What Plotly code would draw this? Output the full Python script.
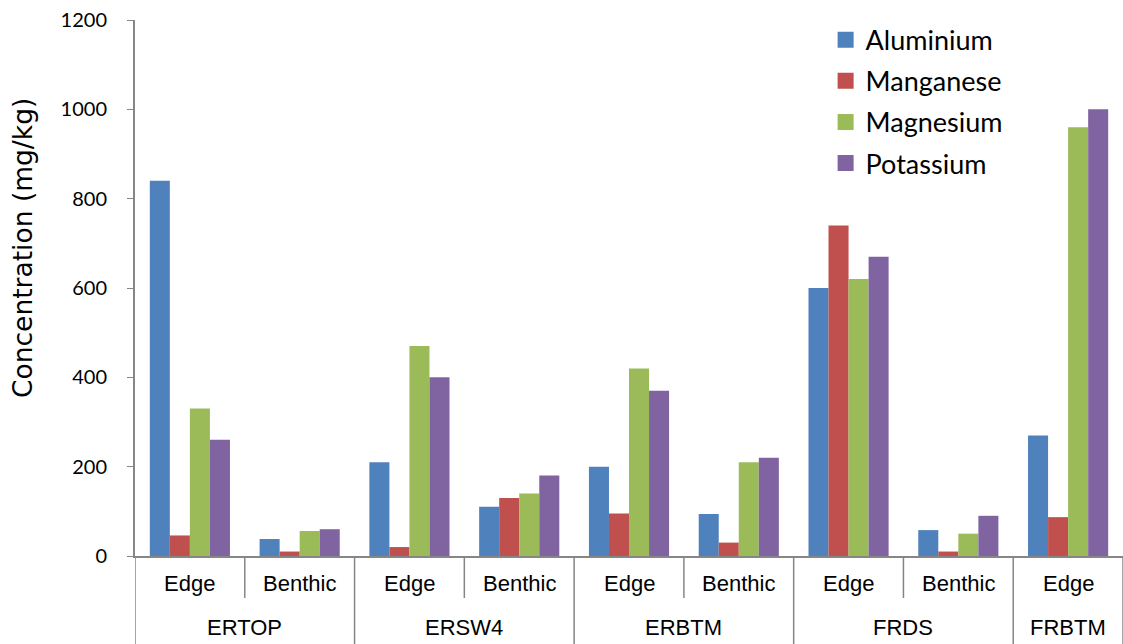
import plotly.graph_objects as go

# Sampling sites and positions
sites = ["ERTOP", "ERTOP", "ERSW4", "ERSW4", "ERBTM", "ERBTM", "FRDS", "FRDS", "FRBTM"]
positions = ["Edge", "Benthic", "Edge", "Benthic", "Edge", "Benthic", "Edge", "Benthic", "Edge"]

# Metal concentrations (mg/kg)
aluminium = [840, 38, 210, 110, 200, 94, 600, 58, 270]
manganese = [46, 10, 20, 130, 95, 30, 740, 10, 87]
magnesium = [330, 56, 470, 140, 420, 210, 620, 50, 960]
potassium = [260, 60, 400, 180, 370, 220, 670, 90, 1000]

series = [
    ("Aluminium", aluminium, "#4F81BD"),
    ("Manganese", manganese, "#C0504D"),
    ("Magnesium", magnesium, "#9BBB59"),
    ("Potassium", potassium, "#8064A2"),
]

ARIAL = "Liberation Sans"
SOFT = "Lato"
WIDE = "DejaVu Sans"
axis_grey = "#868686"

# one category per site/position pair
cats = [f"{s} {p}" for s, p in zip(sites, positions)]

fig = go.Figure()
for i, (name, vals, color) in enumerate(series):
    fig.add_trace(go.Bar(
        name=name, x=cats, y=vals,
        marker=dict(color=color, line=dict(width=0)),
        showlegend=False,
    ))
    # square swatch for the legend
    fig.add_trace(go.Scatter(
        name=name, x=[None], y=[None], mode="markers",
        marker=dict(symbol="square", size=17, color=color),
        legendgroup=f"g{i}", showlegend=True,
    ))

# two-level category labels below the axis
plot_w = 1123 - 135
plot_h = 644 - 20 - 88
for c, p in zip(cats, positions):
    fig.add_annotation(x=c, xref="x", y=-27 / plot_h, yref="paper",
                       text=p, showarrow=False, yanchor="middle",
                       font=dict(family=ARIAL, size=22, color="black"))

n = len(cats)
start = 0
for k in range(1, n + 1):
    if k == n or sites[k] != sites[start]:
        mid = (start + k - 1) / 2
        fig.add_annotation(x=mid, xref="x", y=-71 / plot_h, yref="paper",
                           text=sites[start], showarrow=False, yanchor="middle",
                           font=dict(family=ARIAL, size=22, color="black"))
        # group boundary spans both label rows
        fig.add_shape(type="line", xref="x", yref="paper",
                      x0=k - 0.5, x1=k - 0.5, y0=0, y1=-88 / plot_h,
                      line=dict(color=axis_grey, width=1.5))
        start = k
    else:
        # boundary inside a site spans the first row only
        fig.add_shape(type="line", xref="x", yref="paper",
                      x0=k - 0.5, x1=k - 0.5, y0=0, y1=-42 / plot_h,
                      line=dict(color=axis_grey, width=1.5))
fig.add_shape(type="line", xref="x", yref="paper",
              x0=-0.5, x1=-0.5, y0=0, y1=-88 / plot_h,
              line=dict(color=axis_grey, width=1.5))

# y-axis title, placed slightly above the axis midpoint
fig.add_annotation(text="Concentration (mg/kg)", textangle=-90, showarrow=False,
                   xref="paper", yref="paper",
                   x=(22 - 135) / plot_w, y=(556 - 248) / plot_h,
                   xanchor="center", yanchor="middle",
                   font=dict(family=WIDE, size=26.5, color="black"))

fig.update_layout(
    width=1123,
    height=644,
    margin=dict(l=135, r=0, t=20, b=88),
    paper_bgcolor="white",
    plot_bgcolor="white",
    barmode="group",
    bargap=0.27,
    bargroupgap=0,
    font=dict(family=ARIAL, color="black"),
    legend=dict(
        x=0.699, y=1.008, xanchor="left", yanchor="top",
        font=dict(family=SOFT, size=27),
        tracegroupgap=3,
        bgcolor="rgba(0,0,0,0)",
        itemsizing="trace",
    ),
    xaxis=dict(
        type="category",
        categoryorder="array", categoryarray=cats,
        range=[-0.5, n - 0.5],
        showline=True, linecolor=axis_grey, linewidth=2,
        showticklabels=False, ticks="",
        showgrid=False,
    ),
    yaxis=dict(
        range=[0, 1200], dtick=200,
        showline=True, linecolor=axis_grey, linewidth=2,
        ticks="outside", ticklen=6, tickcolor=axis_grey,
        ticklabelstandoff=16,
        tickfont=dict(family=SOFT, size=20),
        showgrid=False, zeroline=False,
    ),
)

fig.write_html("out.html")
